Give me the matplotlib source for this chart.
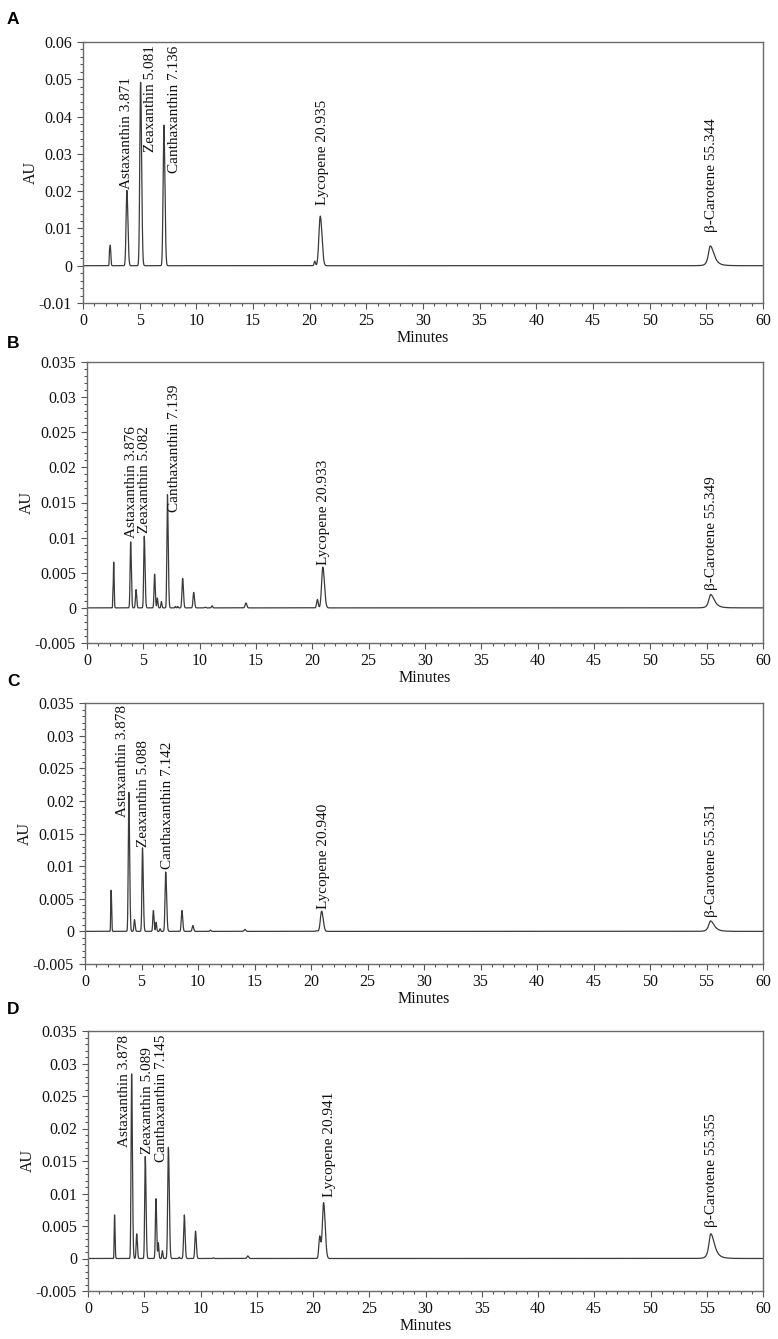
import numpy as np
import matplotlib
matplotlib.use('Agg')
import matplotlib.pyplot as plt
from matplotlib.ticker import MultipleLocator, FuncFormatter

plt.rcParams['font.family'] = ['Liberation Serif', 'DejaVu Serif']

# peaks: retention time (min), height (AU), left/right width (min)
rt_a = [2.33, 2.40, 3.871, 5.081, 7.136, 20.45, 20.935]
h_a = [0.0030, 0.0055, 0.0202, 0.0492, 0.0377, 0.0012, 0.0133]
wl_a = [0.02, 0.04, 0.07, 0.07, 0.07, 0.06, 0.12]
wr_a = [0.02, 0.05, 0.09, 0.09, 0.09, 0.06, 0.15]

rt_b = [2.30, 2.37, 3.876, 4.35, 5.082, 6.00, 6.24, 6.60, 7.139, 7.85, 8.05, 8.49,
        9.47, 10.5, 11.1, 14.1, 20.45, 20.933]
h_b = [0.0023, 0.0065, 0.0094, 0.0026, 0.0102, 0.0048, 0.0014, 0.0009, 0.0161, 0.0002,
       0.0002, 0.0042, 0.0022, 0.0001, 0.0003, 0.0007, 0.0012, 0.0058]
wl_b = [0.02, 0.03, 0.05, 0.05, 0.05, 0.05, 0.04, 0.04, 0.05, 0.04, 0.04, 0.06,
        0.06, 0.05, 0.05, 0.07, 0.07, 0.11]
wr_b = [0.02, 0.04, 0.06, 0.06, 0.07, 0.06, 0.05, 0.05, 0.07, 0.04, 0.04, 0.07,
        0.07, 0.05, 0.05, 0.08, 0.07, 0.14]

rt_c = [2.28, 2.32, 3.878, 4.38, 5.088, 6.05, 6.29, 6.64, 7.142, 8.58, 9.54, 11.1,
        14.15, 20.5, 20.940]
h_c = [0.0022, 0.0059, 0.0213, 0.0018, 0.0128, 0.0032, 0.0014, 0.0004, 0.0091, 0.0032,
       0.0009, 0.0002, 0.0003, 0.0001, 0.0031]
wl_c = [0.02, 0.03, 0.05, 0.05, 0.05, 0.05, 0.04, 0.04, 0.06, 0.06, 0.06, 0.05,
        0.07, 0.07, 0.11]
wr_c = [0.02, 0.04, 0.07, 0.06, 0.07, 0.06, 0.05, 0.05, 0.08, 0.07, 0.07, 0.05,
        0.08, 0.07, 0.14]

rt_d = [2.33, 2.37, 3.878, 4.33, 5.089, 6.04, 6.25, 6.61, 7.145, 8.11, 8.56, 9.56,
        11.15, 14.2, 20.6, 20.941]
h_d = [0.0022, 0.0063, 0.0284, 0.0038, 0.0157, 0.0092, 0.0024, 0.0012, 0.0171, 0.0002,
       0.0067, 0.0042, 0.0001, 0.0004, 0.0034, 0.0086]
wl_d = [0.02, 0.03, 0.05, 0.05, 0.05, 0.05, 0.04, 0.04, 0.06, 0.04, 0.06, 0.06,
        0.05, 0.07, 0.08, 0.11]
wr_d = [0.02, 0.04, 0.07, 0.06, 0.07, 0.06, 0.05, 0.05, 0.08, 0.04, 0.07, 0.07,
        0.05, 0.08, 0.09, 0.14]

# the late, tailing beta-carotene peak (one per panel)
carotene_rt = [55.344, 55.349, 55.351, 55.355]
carotene_h = [0.0053, 0.0019, 0.0016, 0.0038]

# peak labels
labels_a = ['Astaxanthin 3.871', 'Zeaxanthin 5.081', 'Canthaxanthin 7.136',
            'Lycopene 20.935', 'β-Carotene 55.344']
labels_b = ['Astaxanthin 3.876', 'Zeaxanthin 5.082', 'Canthaxanthin 7.139',
            'Lycopene 20.933', 'β-Carotene 55.349']
labels_c = ['Astaxanthin 3.878', 'Zeaxanthin 5.088', 'Canthaxanthin 7.142',
            'Lycopene 20.940', 'β-Carotene 55.351']
labels_d = ['Astaxanthin 3.878', 'Zeaxanthin 5.089', 'Canthaxanthin 7.145',
            'Lycopene 20.941', 'β-Carotene 55.355']

# where the labels sit (x, bottom y in data units)
pos_a = [(3.81, 0.0207), (5.93, 0.0306), (8.04, 0.0248), (21.13, 0.0162), (55.5, 0.0090)]
pos_b = [(3.93, 0.0100), (5.12, 0.0106), (7.78, 0.0137), (21.0, 0.0061), (55.43, 0.0026)]
pos_c = [(3.28, 0.0176), (5.18, 0.0130), (7.30, 0.0095), (21.15, 0.0035), (55.46, 0.0022)]
pos_d = [(3.22, 0.0171), (5.26, 0.0161), (6.52, 0.0148), (21.48, 0.0094), (55.44, 0.0048)]

panel_names = ['A', 'B', 'C', 'D']
ylims = [(-0.01, 0.06), (-0.005, 0.035), (-0.005, 0.035), (-0.005, 0.035)]
ysteps = [(0.01, 0.002), (0.005, 0.001), (0.005, 0.001), (0.005, 0.001)]

# axes boxes in pixels: left, right, top, bottom
W, H = 778, 1339
boxes = [(83, 763, 42, 303), (87, 763, 362, 643), (85, 763, 703, 964), (88, 763, 1031, 1291)]
letter_y = [24, 348, 686, 1014]

fig = plt.figure(figsize=(W / 100, H / 100), dpi=100)

t = np.linspace(0, 60, 24001)


def trace(rts, hs, wls, wrs, c_rt, c_h):
    y = np.zeros_like(t)
    for c, h, wl, wr in zip(rts, hs, wls, wrs):
        d = t - c
        s = np.where(d < 0, wl, wr)
        y += h * np.exp(-0.5 * (d / s) ** 2)
    # tailing peak, sharper top
    d = t - c_rt
    s = np.where(d < 0, 0.3, 0.6)
    y += c_h / (1 + (d / s) ** 2) ** 2
    return y


def fmt(v, pos):
    s = f'{v:.3f}'.rstrip('0').rstrip('.')
    return '0' if s in ('-0', '0') else s


data = [(rt_a, h_a, wl_a, wr_a, labels_a, pos_a),
        (rt_b, h_b, wl_b, wr_b, labels_b, pos_b),
        (rt_c, h_c, wl_c, wr_c, labels_c, pos_c),
        (rt_d, h_d, wl_d, wr_d, labels_d, pos_d)]

for i, (rts, hs, wls, wrs, labs, pos) in enumerate(data):
    l, r, tp, b = boxes[i]
    ax = fig.add_axes([l / W, 1 - b / H, (r - l) / W, (b - tp) / H])
    y = trace(rts, hs, wls, wrs, carotene_rt[i], carotene_h[i])
    ax.plot(t, y, color='#3a3a3a', lw=0.9)
    ax.set_xlim(0, 60)
    ax.set_ylim(*ylims[i])
    ax.xaxis.set_major_locator(MultipleLocator(5))
    ax.xaxis.set_minor_locator(MultipleLocator(1))
    ax.yaxis.set_major_locator(MultipleLocator(ysteps[i][0]))
    ax.yaxis.set_minor_locator(MultipleLocator(ysteps[i][1]))
    ax.yaxis.set_major_formatter(FuncFormatter(fmt))
    ax.tick_params(which='both', direction='out', color='#555555', labelsize=11.5,
                   labelcolor='#111111', width=0.8)
    ax.tick_params(which='major', length=4, pad=4)
    ax.tick_params(axis='x', which='major', pad=3)
    ax.tick_params(which='minor', length=2.5)
    for sp in ax.spines.values():
        sp.set_color('#6a6a6a')
        sp.set_linewidth(1.0)
    ax.set_xlabel('Minutes', fontsize=11.5, labelpad=1, color='#111111')
    ax.set_ylabel('AU', fontsize=11.5, labelpad=0, color='#111111')
    for txt, (x, yy) in zip(labs, pos):
        ax.text(x, yy, txt, rotation=90, ha='center', va='bottom', fontsize=11,
                color='#111111')
    fig.text(7 / W, 1 - letter_y[i] / H, panel_names[i], fontsize=12.5,
             fontweight='bold', family=['Liberation Sans', 'DejaVu Sans'])

fig.savefig('out.png', dpi=100)
